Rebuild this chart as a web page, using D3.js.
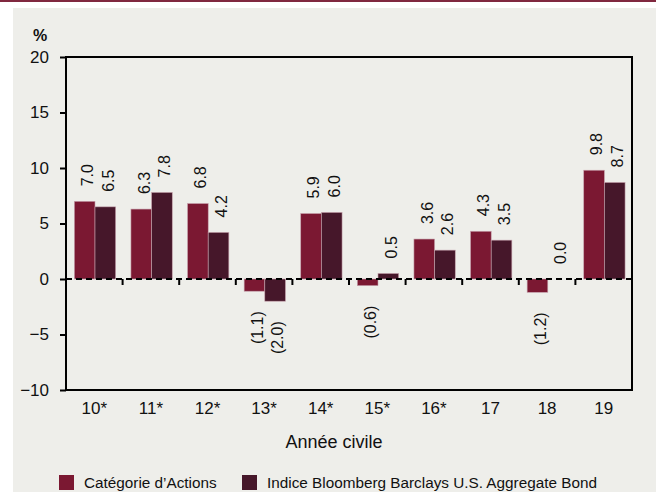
<!DOCTYPE html>
<html>
<head>
<meta charset="utf-8">
<script src="https://cdn.jsdelivr.net/npm/d3@7"></script>
<style>
  html, body { margin: 0; padding: 0; background: #ffffff; }
  svg { display: block; }
  text { font-family: "Liberation Sans", Arial, sans-serif; fill: #111; }
</style>
</head>
<body>
<svg id="chart" width="656" height="492"></svg>
<script>
const categories = ["10*", "11*", "12*", "13*", "14*", "15*", "16*", "17", "18", "19"];
const seriesNames = ["Catégorie d’Actions", "Indice Bloomberg Barclays U.S. Aggregate Bond"];
const equityValues = [7.0, 6.3, 6.8, -1.1, 5.9, -0.6, 3.6, 4.3, -1.2, 9.8];
const bondValues = [6.5, 7.8, 4.2, -2.0, 6.0, 0.5, 2.6, 3.5, 0.0, 8.7];
const yTicks = [-10, -5, 0, 5, 10, 15, 20];
const colors = ["#7b1832", "#46172a"];
const yLabel = "%";
const xTitle = "Année civile";

const svg = d3.select("#chart");
const W = 656, H = 492;
const m = { left: 66, right: 632, top: 57, bottom: 390 };

// background panel and top rule
svg.append("rect").attr("x", 13).attr("y", 8).attr("width", W - 13).attr("height", H - 8).attr("fill", "#eeeeea");
svg.append("rect").attr("x", 0).attr("y", 0).attr("width", W).attr("height", 2).attr("fill", "#80283f");

const y = d3.scaleLinear().domain([-10, 20]).range([m.bottom, m.top]);
const x0 = d3.scaleBand().domain(categories).range([m.left, m.right]).padding(0);
const x1 = d3.scaleBand().domain([0, 1]).range([0, x0.bandwidth()]).paddingInner(0).paddingOuter(0.37);

const data = categories.map((c, i) => ({ cat: c, vals: [equityValues[i], bondValues[i]] }));

// bars
const groups = svg.append("g").selectAll("g").data(data).join("g")
  .attr("transform", d => `translate(${x0(d.cat) + 0.7},0)`);
groups.selectAll("rect").data(d => d.vals.map((v, k) => ({ v, k }))).join("rect")
  .attr("x", d => x1(d.k))
  .attr("width", x1.bandwidth())
  .attr("y", d => y(Math.max(0, d.v)))
  .attr("height", d => Math.abs(y(d.v) - y(0)))
  .attr("fill", d => colors[d.k])
  .attr("stroke", "#c7a2ad")
  .attr("stroke-width", 0.6);

// value labels
const fmt = v => v < 0 ? `(${Math.abs(v).toFixed(1)})` : v.toFixed(1);
groups.selectAll("text").data(d => d.vals.map((v, k) => ({ v, k }))).join("text")
  .attr("transform", d => {
    const cx = x1(d.k) + x1.bandwidth() / 2 + 2.5;
    const yy = d.v < 0 ? y(d.v) + 20 : y(d.v) - 15;
    return `translate(${cx},${yy}) rotate(-90)`;
  })
  .attr("text-anchor", d => d.v < 0 ? "end" : "start")
  .attr("dy", "0.36em")
  .style("font-size", "16px")
  .text(d => fmt(d.v));

// frame
svg.append("rect").attr("x", m.left).attr("y", m.top)
  .attr("width", m.right - m.left).attr("height", m.bottom - m.top)
  .attr("fill", "none").attr("stroke", "#000").attr("stroke-width", 2);

// zero dashed line
svg.append("line").attr("x1", m.left).attr("x2", m.right)
  .attr("y1", y(0)).attr("y2", y(0))
  .attr("stroke", "#000").attr("stroke-width", 2).attr("stroke-dasharray", "6,4");

// category separator ticks on zero line
const seps = categories.slice(1).map(c => x0(c));
svg.append("g").selectAll("line").data(seps).join("line")
  .attr("x1", d => d).attr("x2", d => d)
  .attr("y1", y(0)).attr("y2", y(0) + 6)
  .attr("stroke", "#000").attr("stroke-width", 2);

// y axis
const yAxis = d3.axisLeft(y).tickValues(yTicks).tickSize(6).tickPadding(11).tickFormat(d3.format("d"));
const ya = svg.append("g").attr("transform", `translate(${m.left},0)`).call(yAxis);
ya.select(".domain").remove();
ya.selectAll(".tick line").attr("stroke", "#000").attr("stroke-width", 2);
ya.selectAll(".tick text").style("font-size", "17px").style("font-family", "'Liberation Sans', Arial, sans-serif").attr("fill", "#111");

// x axis labels
const xAxis = d3.axisBottom(x0).tickSize(0).tickPadding(12);
const xa = svg.append("g").attr("transform", `translate(0,${m.bottom})`).call(xAxis);
xa.select(".domain").remove();
xa.selectAll(".tick text").style("font-size", "17px").style("font-family", "'Liberation Sans', Arial, sans-serif").attr("fill", "#111");

// % label
svg.append("text").attr("x", 33).attr("y", 41).style("font-size", "16px").style("font-weight", "bold").text(yLabel);

// x title
svg.append("text").attr("x", 334).attr("y", 448).attr("text-anchor", "middle").style("font-size", "18px").text(xTitle);

// legend
const legendX = [59, 242];
const lg = svg.append("g").selectAll("g").data(seriesNames).join("g")
  .attr("transform", (d, i) => `translate(${legendX[i]},475)`);
lg.append("rect").attr("width", 15).attr("height", 15).attr("fill", (d, i) => colors[i]);
lg.append("text").attr("x", 25).attr("y", 13).style("font-size", "15.3px").text(d => d);
</script>
</body>
</html>
